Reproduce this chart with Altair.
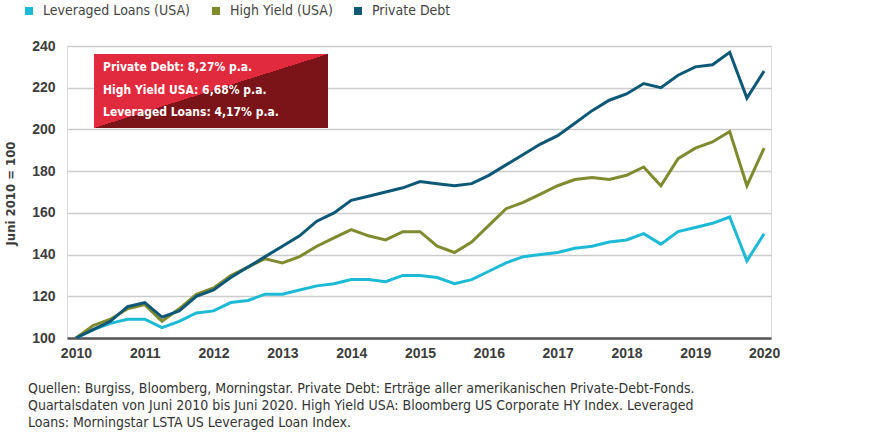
import altair as alt
import pandas as pd

# ---- data (quarterly, June 2010 = 100) ----
quarters = [2010 + i / 4 for i in range(41)]
private_debt = [100, 104, 108, 115, 117, 110, 113, 120, 123, 129, 134, 139, 144, 149, 156, 160,
                166, 168, 170, 172, 175, 174, 173, 174, 178, 183, 188, 193, 197, 203, 209, 214,
                217, 222, 220, 226, 230, 231, 237, 215, 228]
high_yield = [100, 106, 109, 114, 116, 108, 114, 121, 124, 130, 134, 138, 136, 139, 144, 148,
              152, 149, 147, 151, 151, 144, 141, 146, 154, 162, 165, 169, 173, 176, 177, 176,
              178, 182, 173, 186, 191, 194, 199, 173, 191]
lev_loans = [100, 104, 107, 109, 109, 105, 108, 112, 113, 117, 118, 121, 121, 123, 125, 126,
             128, 128, 127, 130, 130, 129, 126, 128, 132, 136, 139, 140, 141, 143, 144, 146,
             147, 150, 145, 151, 153, 155, 158, 137, 150]

series_names = ["Leveraged Loans (USA)", "High Yield (USA)", "Private Debt"]
series_colors = ["#1DBAD6", "#808A2F", "#0E5877"]
year_ticks = list(range(2010, 2021))
y_ticks = [100, 120, 140, 160, 180, 200, 220, 240]

box_lines = ["Private Debt: 8,27% p.a.", "High Yield USA: 6,68% p.a.", "Leveraged Loans: 4,17% p.a."]
footnote_lines = [
    "Quellen: Burgiss, Bloomberg, Morningstar. Private Debt: Erträge aller amerikanischen Private-Debt-Fonds.",
    "Quartalsdaten von Juni 2010 bis Juni 2020. High Yield USA: Bloomberg US Corporate HY Index. Leveraged",
    "Loans: Morningstar LSTA US Leveraged Loan Index.",
]

rows = []
for name, vals in zip(series_names, [lev_loans, high_yield, private_debt]):
    for q, v in zip(quarters, vals):
        rows.append({"quarter": q, "value": v, "series": name})
df = pd.DataFrame(rows)

NARROW = "'DejaVu Sans Condensed', 'Liberation Sans', sans-serif"
BOLD = "'Liberation Sans', Arial, sans-serif"

lines = alt.Chart(df).mark_line(strokeWidth=3).encode(
    x=alt.X("quarter:Q",
            scale=alt.Scale(domain=[2009.87, 2020.10], nice=False, zero=False),
            axis=alt.Axis(values=year_ticks, format="d", title=None, grid=False,
                          ticks=False, domain=True, domainColor="#555555", domainWidth=2.5,
                          labelFont=BOLD, labelFontWeight="bold", labelFontSize=14,
                          labelColor="#3c3c3c", labelPadding=8, labelFlush=False)),
    y=alt.Y("value:Q",
            scale=alt.Scale(domain=[100, 240], nice=False, zero=False),
            axis=alt.Axis(values=y_ticks, title="Juni 2010 = 100", grid=True,
                          gridColor="#cccccc", gridWidth=1.5, ticks=False, domain=False,
                          labelFont=BOLD, labelFontWeight="bold", labelFontSize=14,
                          labelColor="#3c3c3c", labelPadding=12,
                          titleFont=NARROW, titleFontWeight="bold", titleFontSize=13,
                          titleColor="#3c3c3c", titleX=-57, titleY=147,
                          titleAngle=270, titleAlign="center", titleBaseline="middle")),
    color=alt.Color("series:N",
                    scale=alt.Scale(domain=series_names, range=series_colors),
                    legend=alt.Legend(title=None, orient="none", direction="horizontal",
                                      legendX=-45, legendY=-42, padding=0,
                                      symbolType="square", symbolSize=16, symbolStrokeWidth=4,
                                      labelFont=NARROW, labelFontSize=14, labelColor="#444444",
                                      labelOffset=7, columnPadding=15, labelLimit=400)),
    order=alt.Order("quarter:Q"),
)

one = pd.DataFrame({"k": [0]})

box = alt.Chart(one).mark_rect(
    fill=alt.Gradient(
        gradient="linear", x1=0, y1=0, x2=1, y2=1,
        stops=[alt.GradientStop(offset=0, color="#E12A3D"),
               alt.GradientStop(offset=0.5, color="#E12A3D"),
               alt.GradientStop(offset=0.5, color="#7A1418"),
               alt.GradientStop(offset=1, color="#7A1418")]),
).encode(x=alt.value(27), x2=alt.value(261), y=alt.value(8), y2=alt.value(82))

box_text = alt.Chart(one).mark_text(
    text="\n".join(box_lines), lineBreak="\n", lineHeight=22.5, align="left", baseline="middle",
    font=NARROW, fontWeight="bold", fontSize=12, color="white",
).encode(x=alt.value(36), y=alt.value(21))

foot = alt.Chart(one).mark_text(
    text="\n".join(footnote_lines), lineBreak="\n", lineHeight=17, align="left", baseline="middle",
    font=NARROW, fontSize=14, color="#333333",
).encode(x=alt.value(-39), y=alt.value(343))

chart = alt.layer(lines, box, box_text, foot).properties(
    width=704, height=292,
    autosize=alt.AutoSizeParams(type="none"),
    padding={"left": 67, "top": 46, "right": 116, "bottom": 109},
).configure_view(stroke=None).configure(background="white")

chart.save("out.html", embed_options={"renderer": "svg", "actions": False})
